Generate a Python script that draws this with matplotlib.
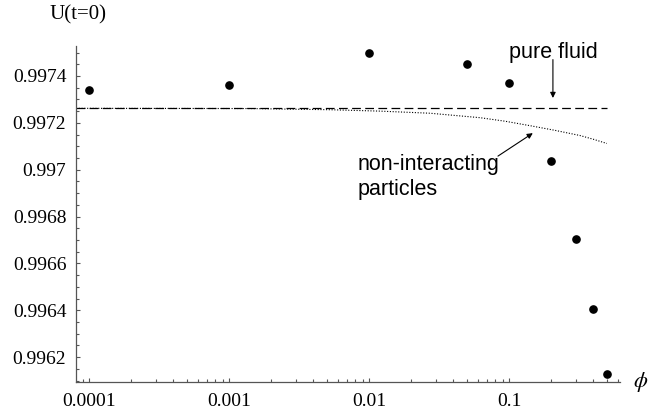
import matplotlib
matplotlib.use("Agg")
import matplotlib.pyplot as plt
from matplotlib.ticker import FixedLocator, MultipleLocator, LogLocator, NullFormatter

# ---- data ----
phi = [0.0001, 0.001, 0.01, 0.05, 0.1, 0.2, 0.3, 0.4, 0.5]
U0 = [0.99734, 0.99736, 0.99750, 0.99745, 0.99737, 0.997035, 0.996705, 0.996407, 0.99613]

pure_phi = [0.0000807, 0.5]
pure_U = [0.997262, 0.997262]

nonint_phi = [0.0000807, 0.00141, 0.00526, 0.0120, 0.0273, 0.0621, 0.0936,
              0.141, 0.213, 0.321, 0.40, 0.5]
nonint_U = [0.997262, 0.997261, 0.997256, 0.997250, 0.997241, 0.997222, 0.997207,
            0.997188, 0.997168, 0.997146, 0.997130, 0.997112]

x_ticks = [0.0001, 0.001, 0.01, 0.1]
x_tick_labels = ["0.0001", "0.001", "0.01", "0.1"]
y_ticks = [0.9962, 0.9964, 0.9966, 0.9968, 0.997, 0.9972, 0.9974]
y_tick_labels = ["0.9962", "0.9964", "0.9966", "0.9968", "0.997", "0.9972", "0.9974"]

plt.rcParams["mathtext.fontset"] = "stix"

fig = plt.figure(figsize=(6.49, 4.11), dpi=100)
ax = fig.add_axes([76/649, 1-381.7/411, (620-76)/649, (381.7-46)/411])

ax.plot(pure_phi, pure_U, color="black", lw=0.9, ls=(0, (7, 3.5)))
ax.plot(nonint_phi, nonint_U, color="black", lw=0.8, ls=(0, (1, 1.5)))
ax.plot(phi, U0, "o", color="black", ms=5.2, clip_on=False, zorder=5)

ax.set_xscale("log")
ax.set_xlim(0.0000807, 0.621)
ax.set_ylim(0.996095, 0.997528)

for s in ["top", "right"]:
    ax.spines[s].set_visible(False)
for s in ["left", "bottom"]:
    ax.spines[s].set_color("#555555")
    ax.spines[s].set_linewidth(0.9)

ax.xaxis.set_major_locator(FixedLocator(x_ticks))
ax.set_xticklabels(x_tick_labels)
ax.xaxis.set_minor_locator(LogLocator(base=10, subs=range(2, 10), numticks=20))
ax.xaxis.set_minor_formatter(NullFormatter())
ax.yaxis.set_major_locator(FixedLocator(y_ticks))
ax.set_yticklabels(y_tick_labels)
ax.yaxis.set_minor_locator(MultipleLocator(0.00005))

ax.tick_params(which="both", direction="in", color="#555555", width=0.8)
ax.tick_params(which="major", length=3.2)
ax.tick_params(which="minor", length=2.2)
ax.tick_params(axis="y", which="major", pad=7)
ax.tick_params(axis="x", which="major", pad=8)
for lab in ax.get_xticklabels() + ax.get_yticklabels():
    lab.set_fontfamily("Liberation Serif")
    lab.set_fontsize(14)

fig.text(77.5/649, 1-15/411, "U(t=0)", family="Liberation Serif", fontsize=15,
         ha="center", va="center")
fig.text(641/649, 1-382/411, r"$\phi$", fontsize=16, ha="center", va="center")

ax.text(0.208, 0.997500, "pure fluid", family="Liberation Sans", fontsize=15.5,
        ha="center", va="center")
ax.annotate("", xy=(0.206, 0.997306), xytext=(0.206, 0.997470),
            arrowprops=dict(arrowstyle="-|>", color="black", lw=0.8,
                            mutation_scale=8, shrinkA=0, shrinkB=0))
ax.text(0.00834, 0.996968, "non-interacting\nparticles", family="Liberation Sans",
        fontsize=15.5, ha="left", va="center", linespacing=1.25)
ax.annotate("", xy=(0.148, 0.997156), xytext=(0.0834, 0.997058),
            arrowprops=dict(arrowstyle="-|>", color="black", lw=0.8,
                            mutation_scale=8, shrinkA=0, shrinkB=0))

fig.savefig("out.png", dpi=100)
